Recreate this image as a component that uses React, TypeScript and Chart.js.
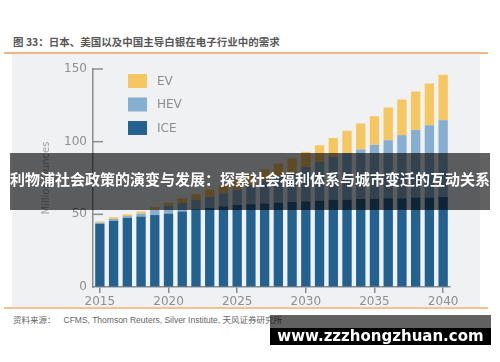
import React, { useEffect, useRef } from "react";
import { Chart, registerables } from "chart.js";

Chart.register(...registerables);

const years = [
  "2015", "2016", "2017", "2018", "2019", "2020", "2021", "2022", "2023",
  "2024", "2025", "2026", "2027", "2028", "2029", "2030", "2031", "2032",
  "2033", "2034", "2035", "2036", "2037", "2038", "2039", "2040",
];
const iceValues = [
  43.5, 45.5, 47.5, 48.5, 49.5, 50.5, 52, 53.5, 54.5, 55.5, 56.5, 57, 57.5,
  58, 58.5, 59, 59.5, 60, 60, 60.5, 60.5, 61, 61, 61.5, 61.5, 62,
];
const hevValues = [
  0.8, 1.3, 1.3, 2.0, 3.5, 5.3, 5.8, 6.5, 7.5, 9, 10.5, 13, 15.5, 18, 20.5,
  23.5, 26.5, 29.5, 32, 34.1, 37.3, 40, 43.5, 46.5, 49.8, 52.8,
];
const evValues = [
  0.8, 1.2, 1.2, 1.5, 2, 2.2, 3.2, 4, 5, 5.5, 6.5, 7, 8, 9, 9.5, 10.5, 11.5,
  13, 15.5, 17.9, 19.7, 22.5, 24.5, 26.5, 28.7, 31.2,
];
const shownYears = ["2015", "2020", "2025", "2030", "2035", "2040"];
const yTickValues = [0, 50, 100, 150];
const seriesNames = ["ICE", "HEV", "EV"];
const seriesColors = ["#23618f", "#86aed0", "#f6c660"];
const yAxisTitle = "Million Ounces";
const chartTitle = "图 33：日本、美国以及中国主导白银在电子行业中的需求";
const sourceLabel = "资料来源：";
const sourceText = "CFMS, Thomson Reuters, Silver Institute, 天风证券研究所";
const bannerText = "利物浦社会政策的演变与发展：探索社会福利体系与城市变迁的互动关系";
const watermarkText = "www.zzzhongzhuan.com";

const axisColor = "#8c8c8c";
const tickColor = "#8e8e8e";

const innerTicksPlugin = {
  id: "innerTicks",
  afterDraw(chart: any) {
    const ctx = chart.ctx;
    const y = chart.scales.y;
    const left = chart.chartArea.left;
    ctx.save();
    ctx.strokeStyle = axisColor;
    ctx.lineWidth = 1.5;
    yTickValues.forEach((v) => {
      if (v === 0) return;
      const py = y.getPixelForValue(v);
      ctx.beginPath();
      ctx.moveTo(left - 1, py);
      ctx.lineTo(left + 10, py);
      ctx.stroke();
    });
    ctx.restore();
  },
};

const legendPlugin = {
  id: "customLegend",
  afterDraw(chart: any) {
    const ctx = chart.ctx;
    const area = chart.chartArea;
    const ds = chart.data.datasets.slice().reverse();
    ctx.save();
    ctx.font = "12px 'DejaVu Sans'";
    ctx.textBaseline = "middle";
    ds.forEach((d: any, i: number) => {
      const bx = area.left + 35;
      const by = area.top + 5 + i * 23.5;
      ctx.fillStyle = d.backgroundColor;
      ctx.fillRect(bx, by, 19, 14);
      ctx.fillStyle = tickColor;
      ctx.fillText(d.label, bx + 29, by + 7.5);
    });
    ctx.restore();
  },
};

function BarChart() {
  const ref = useRef<HTMLCanvasElement | null>(null);
  useEffect(() => {
    if (!ref.current) return;
    const chart = new Chart(ref.current, {
      type: "bar",
      data: {
        labels: years,
        datasets: [
          { label: seriesNames[0], data: iceValues, backgroundColor: seriesColors[0] },
          { label: seriesNames[1], data: hevValues, backgroundColor: seriesColors[1] },
          { label: seriesNames[2], data: evValues, backgroundColor: seriesColors[2] },
        ],
      },
      options: {
        responsive: false,
        animation: false,
        layout: { padding: { left: 0, right: 50, top: 69, bottom: 0 } },
        datasets: { bar: { categoryPercentage: 1, barPercentage: 0.68 } } as any,
        plugins: { legend: { display: false }, tooltip: { enabled: false } },
        scales: {
          x: {
            stacked: true,
            offset: true,
            grid: {
              display: true,
              offset: false,
              drawOnChartArea: false,
              drawTicks: true,
              tickLength: 6,
              color: axisColor,
              lineWidth: 1.5,
            },
            border: { display: true, color: axisColor, width: 1.5 },
            ticks: {
              autoSkip: false,
              maxRotation: 0,
              padding: 2,
              color: tickColor,
              font: { family: "'DejaVu Sans'", size: 12 },
              callback: (_v: any, i: number) =>
                shownYears.includes(years[i]) ? years[i] : null,
            },
            afterFit: (s: any) => {
              s.height = 75;
            },
          },
          y: {
            stacked: true,
            min: 0,
            max: 150,
            grid: { display: true, drawOnChartArea: false, drawTicks: false },
            border: { display: true, color: axisColor, width: 1.5 },
            ticks: {
              stepSize: 50,
              padding: 6,
              color: tickColor,
              font: { family: "'DejaVu Sans'", size: 12 },
            },
            title: {
              display: true,
              text: yAxisTitle,
              color: "#a3a3a3",
              font: { family: "'DejaVu Sans'", size: 10 },
              padding: { top: 40, bottom: 0 },
            },
            afterFit: (s: any) => {
              s.width = 93;
            },
          },
        },
      },
      plugins: [innerTicksPlugin, legendPlugin],
    });
    return () => chart.destroy();
  }, []);
  return (
    <canvas
      ref={ref}
      width={500}
      height={362}
      style={{ position: "absolute", left: 0, top: 0, width: 500, height: 362 }}
    />
  );
}

export default function App() {
  return (
    <div
      style={{
        position: "absolute",
        left: 0,
        top: 0,
        width: 500,
        height: 362,
        background: "#ffffff",
        overflow: "hidden",
        fontFamily: "'Noto Sans CJK SC', 'DejaVu Sans', sans-serif",
      }}
    >
      <div
        style={{
          position: "absolute",
          left: 13,
          top: 34,
          fontSize: 10.5,
          fontWeight: 700,
          color: "#575757",
          whiteSpace: "nowrap",
          lineHeight: "16px",
        }}
      >
        {chartTitle}
      </div>
      <div style={{ position: "absolute", left: 4, top: 52, width: 484, height: 1.5, background: "#f5b380" }} />
      <div style={{ position: "absolute", left: 12, top: 54, width: 468, height: 253, background: "#f0f1f3" }} />
      <div style={{ position: "absolute", left: 4, top: 307, width: 484, height: 1.5, background: "#f8c08f" }} />
      <div
        style={{
          position: "absolute",
          left: 13,
          top: 312,
          fontSize: 8.5,
          color: "#666",
          whiteSpace: "nowrap",
          lineHeight: "14px",
        }}
      >
        <span>{sourceLabel}</span>
        <span style={{ marginLeft: 8, fontFamily: "'Liberation Sans', 'Noto Sans CJK SC'" }}>{sourceText}</span>
      </div>
      <BarChart />
      <div
        style={{
          position: "absolute",
          left: 10,
          top: 153,
          width: 480,
          height: 57,
          background: "rgba(0,0,0,0.62)",
          color: "#fff",
          fontSize: 15,
          fontWeight: 700,
          whiteSpace: "nowrap",
          overflow: "hidden",
          textAlign: "center",
          lineHeight: "52px",
        }}
      >
        {bannerText}
      </div>
      <div style={{ position: "absolute", left: 270, top: 315, width: 221, height: 13, background: "rgba(0,0,0,0.62)" }} />
      <div
        style={{
          position: "absolute",
          left: 270,
          top: 328,
          width: 221,
          height: 17,
          background: "#000",
          color: "#fff",
          fontFamily: "'DejaVu Sans', sans-serif",
          fontWeight: 700,
          fontSize: 15,
          lineHeight: "17px",
          textAlign: "center",
          whiteSpace: "nowrap",
        }}
      >
        {watermarkText}
      </div>
    </div>
  );
}
